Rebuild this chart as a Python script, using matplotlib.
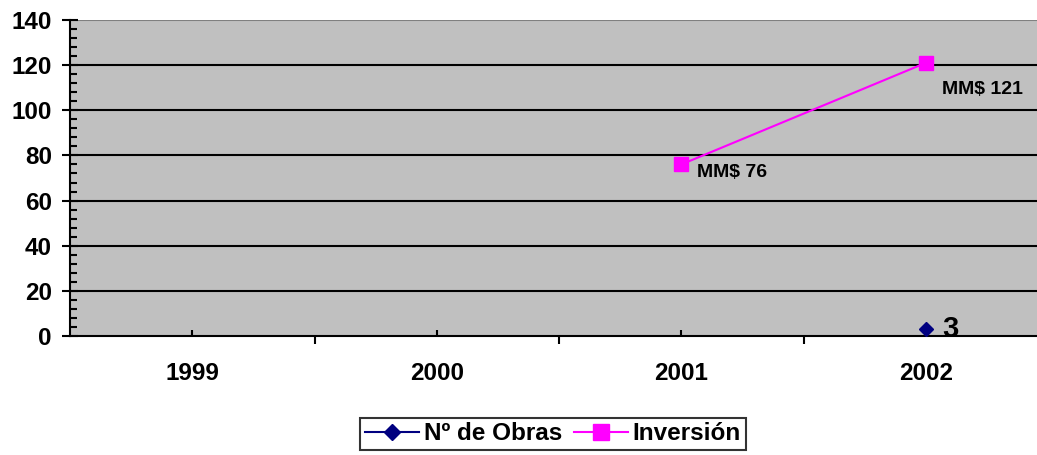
import numpy as np
import matplotlib.pyplot as plt
from matplotlib.ticker import MultipleLocator, FixedLocator

plt.rcParams['font.family'] = ['Liberation Sans', 'DejaVu Sans']
plt.rcParams['font.weight'] = 'bold'

# Datos
anios = ['1999', '2000', '2001', '2002']
n_obras = [np.nan, np.nan, np.nan, 3]
inversion = [np.nan, np.nan, 76, 121]
etiquetas_inv = ['', '', 'MM$ 76', 'MM$ 121']

x = np.arange(len(anios))

fig = plt.figure(figsize=(10.37, 4.55), dpi=100)
ax = fig.add_axes([70 / 1037, 1 - 336 / 455, 978 / 1037, 316 / 455])
ax.set_facecolor('#C0C0C0')

ax.plot(x, n_obras, color='#000080', marker='D', markersize=7, linewidth=1.5,
        label='Nº de Obras', zorder=4, clip_on=False)
ax.plot(x, inversion, color='#FF00FF', marker='s', markersize=10, linewidth=1.5,
        label='Inversión', zorder=4)

# Etiquetas de datos
for xi, v, lab in zip(x, inversion, etiquetas_inv):
    if lab:
        dy = -8 if v < 100 else -27
        ax.annotate(lab, (xi, v), xytext=(16, dy), textcoords='offset pixels',
                    fontsize=14, fontweight='bold', va='center', ha='left')
ax.annotate(str(n_obras[3]), (x[3], n_obras[3]), xytext=(17, 0),
            textcoords='offset pixels', fontsize=21, fontweight='bold',
            va='center', ha='left', zorder=5)

ax.set_xlim(-0.5, len(anios) - 0.5)
ax.set_ylim(0, 140)

# Eje Y
ax.yaxis.set_major_locator(MultipleLocator(20))
ax.yaxis.set_minor_locator(MultipleLocator(4))
ax.tick_params(axis='y', which='major', direction='inout', length=12, width=1.5,
               labelsize=17.5, pad=7)
ax.tick_params(axis='y', which='minor', direction='in', length=5, width=1.5)
for t in ax.get_yticklabels():
    t.set_fontweight('bold')

# Eje X: etiquetas en el centro, marcas en los límites
ax.xaxis.set_major_locator(FixedLocator(x[:-1] + 0.5))
ax.xaxis.set_minor_locator(FixedLocator(x))
ax.set_xticks(x, anios, minor=True)
ax.set_xticklabels([], minor=False)
ax.tick_params(axis='x', which='major', direction='out', length=6, width=1.5)
ax.tick_params(axis='x', which='minor', direction='in', length=4.5, width=1.5,
               labelsize=17.5, pad=19)
for t in ax.get_xticklabels(minor=True):
    t.set_fontweight('bold')

# Rejilla
for yv in range(20, 140, 20):
    ax.axhline(yv, color='black', linewidth=1.5, zorder=1)
ax.axhline(140, color='#808080', linewidth=1.5, zorder=1)

ax.spines['top'].set_visible(False)
ax.spines['right'].set_visible(False)
ax.spines['left'].set_linewidth(1.5)
ax.spines['bottom'].set_linewidth(1.5)

leg = fig.legend(loc='center', bbox_to_anchor=(553 / 1037, 1 - 434 / 455),
                 ncol=2, frameon=True, fancybox=False,
                 handlelength=2.2, handletextpad=0.2, columnspacing=0.5,
                 borderpad=0.2, borderaxespad=0, markerscale=1.2,
                 prop={'weight': 'bold', 'size': 17.5})
leg.get_frame().set_edgecolor('black')
leg.get_frame().set_linewidth(1.5)

fig.savefig('out.png', dpi=100)
